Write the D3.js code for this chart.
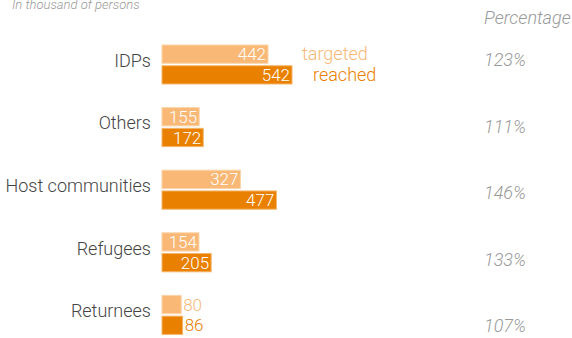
<!DOCTYPE html>
<html>
  <head>
    <meta charset="utf-8">
    <script type="text/javascript" src="https://cdnjs.cloudflare.com/ajax/libs/d3/7.8.5/d3.min.js"></script>
    <style>
      body { margin: 0; background: #fff; }
      text { font-family: Roboto, "Noto Sans", sans-serif; font-weight: 300; }
    </style>
  </head>
  <body>
    <script>
        // data, in thousand of persons
        var categories = ["IDPs", "Others", "Host communities", "Refugees", "Returnees"];
        var targeted = [442, 155, 327, 154, 80];
        var reached = [542, 172, 477, 205, 86];
        var percentages = ["123%", "111%", "146%", "133%", "107%"];
        var seriesNames = ["targeted", "reached"];

        var width = 572, height = 338;
        var lightColor = "#f9b875", darkColor = "#e98000";

        var svg = d3.select("body").append("svg")
            .attr("width", width)
            .attr("height", height);

        // x scale: 542 -> 130px
        var x = d3.scaleLinear().domain([0, 542]).range([162, 292]);

        // groups
        var y = d3.scaleBand().domain(categories).range([45, 358]).paddingInner(0).paddingOuter(0);
        var sub = d3.scaleBand().domain(seriesNames).range([0, 39]).paddingInner(0.12);

        // percentage column uses its own spacing
        var yPct = d3.scalePoint().domain(categories).range([60, 326]);

        svg.append("text")
            .attr("x", 12).attr("y", 9)
            .style("font-size", "13px").style("font-style", "italic")
            .style("fill", "#999")
            .text("In thousand of persons");

        svg.append("text")
            .attr("x", 484).attr("y", 24)
            .style("font-size", "18px").style("font-style", "italic")
            .style("fill", "#999")
            .text("Percentage");

        var rows = categories.map(function(c, i) {
            return { name: c, values: [targeted[i], reached[i]], pct: percentages[i] };
        });

        var group = svg.selectAll("g.row")
            .data(rows)
            .enter().append("g")
            .attr("class", "row")
            .attr("transform", function(d) { return "translate(0," + y(d.name) + ")"; });

        group.append("text")
            .attr("x", 151)
            .attr("y", 15.5)
            .attr("dy", "0.35em")
            .attr("text-anchor", "end")
            .style("font-size", "18px")
            .style("fill", "#444")
            .text(function(d) { return d.name; });

        var bars = group.selectAll("g.bar")
            .data(function(d) {
                return d.values.map(function(v, j) { return { key: seriesNames[j], value: v }; });
            })
            .enter().append("g")
            .attr("class", "bar");

        bars.append("rect")
            .attr("x", x(0))
            .attr("y", function(d) { return sub(d.key); })
            .attr("width", function(d) { return x(d.value) - x(0); })
            .attr("height", sub.bandwidth())
            .style("fill", function(d) { return d.key === "targeted" ? lightColor : darkColor; })
            .style("stroke", function(d) { return d.key === "targeted" ? "#fcd3a8" : "#f4b56a"; })
            .style("stroke-width", 1);

        bars.append("text")
            .attr("y", function(d) { return sub(d.key) + sub.bandwidth() / 2; })
            .attr("dy", "0.36em")
            .attr("x", function(d) { return (x(d.value) - x(0)) < 30 ? x(d.value) + 2 : x(d.value) - 2; })
            .attr("text-anchor", function(d) { return (x(d.value) - x(0)) < 30 ? "start" : "end"; })
            .style("font-size", "17px")
            .style("fill", function(d) {
                if ((x(d.value) - x(0)) >= 30) return "#fff";
                return d.key === "targeted" ? lightColor : darkColor;
            })
            .text(function(d) { return d.value; });

        // legend next to first group
        svg.append("text")
            .attr("x", 302).attr("y", y(categories[0]) + sub("targeted") + sub.bandwidth() / 2 - 1)
            .attr("dy", "0.36em")
            .style("font-size", "18px").style("fill", lightColor)
            .text("targeted");
        svg.append("text")
            .attr("x", 313).attr("y", y(categories[0]) + sub("reached") + sub.bandwidth() / 2)
            .attr("dy", "0.36em")
            .style("font-size", "18px").style("fill", darkColor)
            .text("reached");

        svg.selectAll("text.pct")
            .data(rows)
            .enter().append("text")
            .attr("class", "pct")
            .attr("x", 484)
            .attr("y", function(d) { return yPct(d.name); })
            .attr("dy", "0.36em")
            .style("font-size", "18px").style("font-style", "italic")
            .style("fill", "#999")
            .text(function(d) { return d.pct; });
    </script>
  </body>
</html>
